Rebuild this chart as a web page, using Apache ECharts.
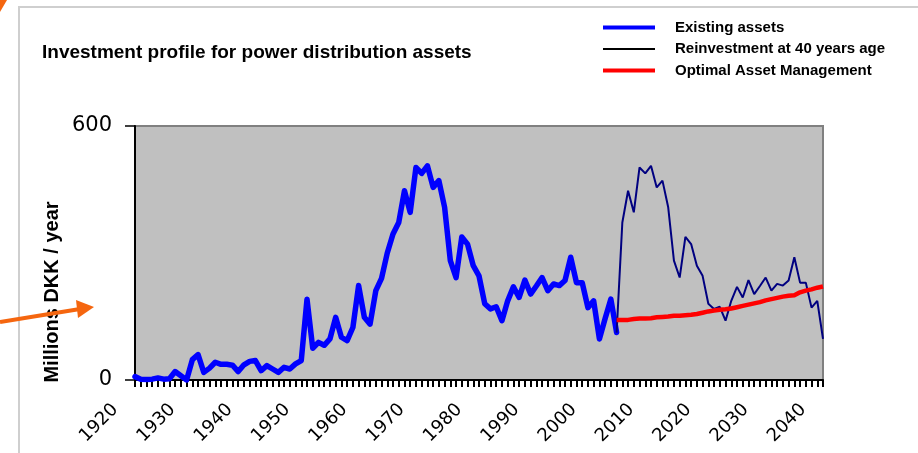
<!DOCTYPE html>
<html>
<head>
<meta charset="utf-8">
<script src="https://cdn.jsdelivr.net/npm/echarts@6/dist/echarts.min.js"></script>
<style>
  html, body { margin: 0; padding: 0; background: #fff; }
  #chart { width: 918px; height: 453px; }
</style>
</head>
<body>
<div id="chart"></div>
<script>
// years on the category axis
var years = [];
for (var y = 1920; y <= 2040; y++) {
    years.push(String(y));
}

// existing assets, 1920 - 2004 (Millions DKK / year)
var existing = [
    8, 2, 1, 2, 5, 2, 3, 20, 10, 0,
    48, 60, 18, 28, 42, 37, 37, 35, 20, 36,
    44, 46, 22, 34, 26, 18, 30, 26, 38, 46,
    191, 75, 89, 82, 97, 148, 101, 93, 124, 223,
    148, 132, 211, 240, 300, 345, 372, 447, 396, 502,
    488, 506, 455, 471, 408, 282, 242, 338, 321, 270,
    246, 180, 168, 173, 140, 187, 220, 195, 236, 203,
    222, 242, 211, 227, 223, 235, 290, 230, 230, 171,
    187, 97, 145, 191, 112
];

// projections, 2004 - 2040
var projectionStart = '2004';
var reinvest40 = [
    112, 372, 447, 396, 502, 488, 506, 455, 471, 408,
    282, 242, 338, 321, 270, 246, 180, 168, 173, 140,
    187, 220, 195, 236, 203, 222, 242, 211, 227, 223,
    235, 290, 230, 230, 171, 187, 97
];
var optimal = [
    142, 142, 142, 144, 145, 145, 146, 148, 149, 150,
    152, 152, 153, 154, 156, 159, 162, 164, 166, 167,
    169, 172, 175, 178, 181, 184, 188, 191, 194, 197,
    199, 200, 207, 211, 214, 218, 221
];

var yTicks = [0, 600];

function padFrom(startYear, values) {
    var start = years.indexOf(startYear);
    var out = [];
    for (var i = 0; i < years.length; i++) {
        var k = i - start;
        out.push(k >= 0 && k < values.length ? values[k] : null);
    }
    return out;
}

var orange = '#F5660F';
var thickIcon = 'path://M0,0H52V4H0Z';
var thinIcon = 'path://M0,0H52V2H0Z';

var option = {
    animation: false,
    backgroundColor: '#ffffff',
    title: {
        text: 'Investment profile for power distribution assets',
        left: 42,
        top: 43,
        padding: 0,
        textStyle: {
            fontFamily: 'Liberation Sans',
            fontWeight: 'bold',
            fontSize: 19,
            color: '#000'
        }
    },
    legend: {
        orient: 'vertical',
        left: 603,
        top: 20,
        padding: 0,
        itemWidth: 52,
        itemHeight: 12,
        itemGap: 6.5,
        symbolKeepAspect: true,
        textStyle: {
            fontFamily: 'Liberation Sans',
            fontWeight: 'bold',
            fontSize: 15,
            lineHeight: 15,
            color: '#000',
            padding: [0, 0, 0, 15]
        },
        data: [
            {name: 'Existing assets', icon: thickIcon, itemStyle: {color: '#0000FF'}},
            {name: 'Reinvestment at 40 years age', icon: thinIcon, itemStyle: {color: '#000'}},
            {name: 'Optimal Asset Management', icon: thickIcon, itemStyle: {color: '#FF0000'}}
        ]
    },
    grid: {
        left: 135,
        right: 95,
        top: 126,
        bottom: 73,
        containLabel: false,
        outerBoundsMode: 'none',
        show: true,
        backgroundColor: '#C0C0C0',
        borderColor: '#808080',
        borderWidth: 2
    },
    xAxis: {
        type: 'category',
        data: years,
        boundaryGap: false,
        axisLine: {lineStyle: {color: '#000', width: 2}},
        axisTick: {
            interval: 0,
            length: 7,
            lineStyle: {color: '#000', width: 2}
        },
        axisLabel: {
            interval: 9,
            rotate: 45,
            margin: 7,
            padding: [0, 28, 0, 0],
            fontFamily: 'DejaVu Sans',
            fontSize: 18,
            color: '#000'
        },
        splitLine: {show: false}
    },
    yAxis: {
        type: 'value',
        min: yTicks[0],
        max: yTicks[1],
        interval: yTicks[1] - yTicks[0],
        axisLine: {show: true, lineStyle: {color: '#000', width: 2}},
        axisTick: {show: true, length: 10, lineStyle: {color: '#000', width: 1.5}},
        axisLabel: {
            margin: 23,
            fontFamily: 'DejaVu Sans',
            fontSize: 21,
            color: '#000'
        },
        splitLine: {show: false}
    },
    series: [
        {
            name: 'Existing assets',
            type: 'line',
            data: padFrom('1920', existing),
            symbol: 'none',
            lineStyle: {color: '#0000FF', width: 5.5, join: 'round', cap: 'round'},
            itemStyle: {color: '#0000FF'}
        },
        {
            name: 'Reinvestment at 40 years age',
            type: 'line',
            data: padFrom(projectionStart, reinvest40),
            symbol: 'none',
            lineStyle: {color: '#000080', width: 2},
            itemStyle: {color: '#000080'}
        },
        {
            name: 'Optimal Asset Management',
            type: 'line',
            data: padFrom(projectionStart, optimal),
            symbol: 'none',
            lineStyle: {color: '#FF0000', width: 4.5, join: 'round'},
            itemStyle: {color: '#FF0000'}
        }
    ],
    graphic: [
        // slide frame
        {
            type: 'rect',
            shape: {x: 19, y: 7, width: 960, height: 500},
            style: {fill: 'none', stroke: '#cfcfcf', lineWidth: 2},
            silent: true
        },
        {
            type: 'text',
            x: 52,
            y: 292,
            rotation: Math.PI / 2,
            style: {
                text: 'Millions DKK / year',
                fontFamily: 'Liberation Sans',
                fontWeight: 'bold',
                fontSize: 20,
                fill: '#000',
                align: 'center',
                verticalAlign: 'middle'
            }
        },
        // orange pointer arrow
        {
            type: 'line',
            shape: {x1: 0, y1: 322, x2: 80, y2: 309},
            style: {stroke: orange, lineWidth: 4}
        },
        {
            type: 'polygon',
            shape: {points: [[76, 300], [94, 307], [78, 318]]},
            style: {fill: orange}
        },
        {
            type: 'polygon',
            shape: {points: [[0, 0], [7, 0], [0, 12]]},
            style: {fill: orange}
        }
    ]
};

var chartDom = document.getElementById('chart');
var chart = echarts.init(chartDom);
chart.setOption(option, true);
</script>
</body>
</html>
